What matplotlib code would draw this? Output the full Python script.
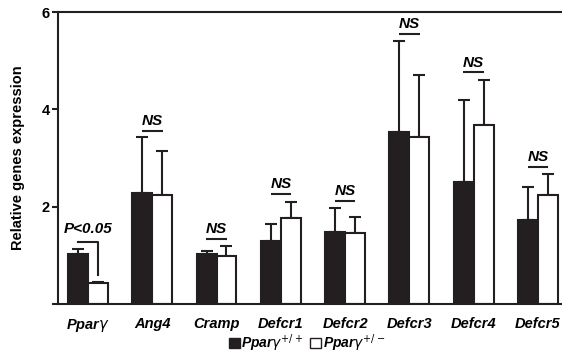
import matplotlib
matplotlib.use("Agg")
import matplotlib.pyplot as plt
import numpy as np
from matplotlib.patches import Patch

plt.rcParams['font.family'] = ['Liberation Sans', 'DejaVu Sans']

genes = ["Ppar$\\gamma$", "Ang4", "Cramp", "Defcr1", "Defcr2", "Defcr3", "Defcr4", "Defcr5"]
wt_mean = [1.03, 2.28, 1.03, 1.29, 1.48, 3.53, 2.50, 1.72]
wt_err = [0.10, 1.15, 0.06, 0.35, 0.49, 1.87, 1.69, 0.68]
het_mean = [0.43, 2.24, 0.99, 1.77, 1.46, 3.43, 3.68, 2.24]
het_err = [0.02, 0.91, 0.20, 0.32, 0.33, 1.27, 0.92, 0.43]
ns_line = [None, 3.56, 1.33, 2.26, 2.11, 5.56, 4.76, 2.81]
sig_text = "P<0.05"
yticks = [0, 2, 4, 6]
ytick_labels = ["", "2", "4", "6"]
legend_labels = ["Ppar$\\gamma^{+/+}$", "Ppar$\\gamma^{+/-}$"]

dark = "#231f20"
fig = plt.figure(figsize=(5.62, 3.56), dpi=100)
ax = fig.add_axes([0.103, 0.146, 0.897, 0.820])

x = np.arange(len(genes))
w = 0.31
ax.bar(x - w / 2, wt_mean, w, color=dark, edgecolor=dark, linewidth=1.5, zorder=2)
ax.bar(x + w / 2, het_mean, w, color="white", edgecolor=dark, linewidth=1.5, zorder=2)
ax.errorbar(x - w / 2, wt_mean, yerr=[np.zeros(len(x)), wt_err], fmt='none',
            ecolor=dark, elinewidth=1.5, capsize=4.2, capthick=1.5, zorder=1)
ax.errorbar(x + w / 2, het_mean, yerr=[np.zeros(len(x)), het_err], fmt='none',
            ecolor=dark, elinewidth=1.5, capsize=4.2, capthick=1.5, zorder=1)

for i, ly in enumerate(ns_line):
    if ly is None:
        continue
    ax.plot([i - 0.16, i + 0.16], [ly, ly], color=dark, lw=1.5, solid_capstyle='butt')
    ax.text(i, ly + 0.06, "NS", ha='center', va='bottom', fontsize=11,
            fontweight='bold', fontstyle='italic', color='black')

# significance bracket for first gene
ax.plot([-w / 2, w / 2, w / 2], [1.27, 1.27, 0.60], color=dark, lw=1.5)
ax.text(0, 1.40, sig_text, ha='center', va='bottom', fontsize=11,
        fontweight='bold', fontstyle='italic', color='black')

ax.set_xlim(-0.467, 7.373)
ax.set_ylim(0, 6)
ax.set_yticks(yticks)
ax.set_yticklabels(ytick_labels, fontsize=10.5, fontweight='bold')
ax.set_xticks(x)
ax.set_xticklabels(genes, fontsize=10.5, fontweight='bold', fontstyle='italic')
for t in ax.get_xticklabels():
    t.set_math_fontfamily('dejavusans')
ax.tick_params(axis='x', length=0, pad=9)
ax.tick_params(axis='y', length=4, width=1.5, color=dark, pad=2)
ax.set_ylabel("Relative genes expression", fontsize=10.5, fontweight='bold', labelpad=12)
for s in ['left', 'bottom', 'top']:
    ax.spines[s].set_linewidth(1.5)
    ax.spines[s].set_color(dark)
ax.spines['right'].set_visible(False)

handles = [Patch(facecolor=dark, edgecolor=dark, linewidth=1),
           Patch(facecolor='white', edgecolor=dark, linewidth=1)]
leg = fig.legend(handles, legend_labels, loc='center', bbox_to_anchor=(0.546, 0.036),
                 ncol=2, frameon=False, handlelength=0.8, handleheight=0.8,
                 handletextpad=0.1, columnspacing=0.5, borderpad=0.1,
                 prop={'weight': 'bold', 'style': 'italic', 'size': 10})
for t in leg.get_texts():
    t.set_math_fontfamily('dejavusans')

fig.savefig("out.png", dpi=100)
